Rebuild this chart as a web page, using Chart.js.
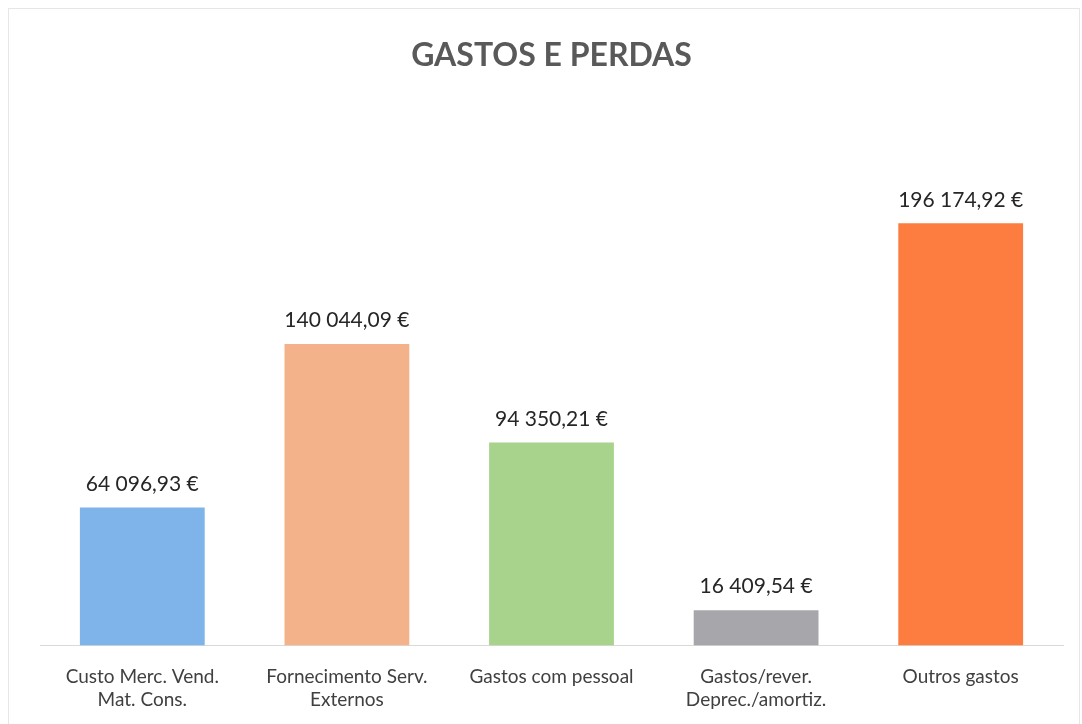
<!DOCTYPE html>
<html>
<head>
<meta charset="utf-8">
<script src="https://cdn.jsdelivr.net/npm/chart.js@4/dist/chart.umd.min.js"></script>
<style>
html,body{margin:0;padding:0;background:#fff;}
#wrap{position:relative;width:1082px;height:724px;}
#frame{position:absolute;left:8px;top:8px;right:2px;bottom:-2px;border:1px solid #e6e6e6;pointer-events:none;}
canvas{display:block;}
</style>
</head>
<body>
<div id="wrap"><canvas id="c" width="1082" height="724"></canvas><div id="frame"></div></div>
<script>
const categories = [
  ["Custo Merc. Vend.", "Mat. Cons."],
  ["Fornecimento Serv.", "Externos"],
  "Gastos com pessoal",
  ["Gastos/rever.", "Deprec./amortiz."],
  "Outros gastos"
];
const values = [64096.93, 140044.09, 94350.21, 16409.54, 196174.92];
const valueLabels = ["64 096,93 €", "140 044,09 €", "94 350,21 €", "16 409,54 €", "196 174,92 €"];
const barColors = ["#7FB4EA", "#F4B28A", "#A8D38C", "#A7A6AA", "#FC7D3F"];
const titleText = "GASTOS E PERDAS";

const FONT = "Lato, 'Open Sans', sans-serif";

const labelPlugin = {
  id: 'valueLabels',
  afterDatasetsDraw(chart) {
    const ctx = chart.ctx;
    const meta = chart.getDatasetMeta(0);
    ctx.save();
    ctx.font = "21px " + FONT;
    ctx.fillStyle = "#262626";
    ctx.textAlign = "center";
    ctx.textBaseline = "bottom";
    meta.data.forEach((bar, i) => {
      ctx.fillText(valueLabels[i], bar.x, bar.y - 13);
    });
    ctx.restore();
  }
};

new Chart(document.getElementById('c'), {
  type: 'bar',
  data: {
    labels: categories,
    datasets: [{
      data: values,
      backgroundColor: barColors,
      borderWidth: 0,
      barPercentage: 0.61,
      categoryPercentage: 1.0
    }]
  },
  options: {
    responsive: false,
    animation: false,
    layout: { padding: { left: 40, right: 19, top: 0, bottom: -7 } },
    plugins: {
      legend: { display: false },
      tooltip: { enabled: false },
      title: {
        display: true,
        text: titleText,
        color: "#595959",
        font: { family: FONT, size: 32, weight: 'bold', lineHeight: 1.2 },
        padding: { top: 36, bottom: 33 }
      }
    },
    scales: {
      x: {
        grid: { display: false, drawTicks: false },
        border: { display: true, color: "#D9D9D9", width: 1 },
        ticks: {
          color: "#404040",
          font: { family: FONT, size: 19, lineHeight: 1.25 },
          padding: 19,
          maxRotation: 0,
          autoSkip: false
        }
      },
      y: {
        display: false,
        min: 0,
        max: 250000
      }
    }
  },
  plugins: [labelPlugin]
});
</script>
</body>
</html>
